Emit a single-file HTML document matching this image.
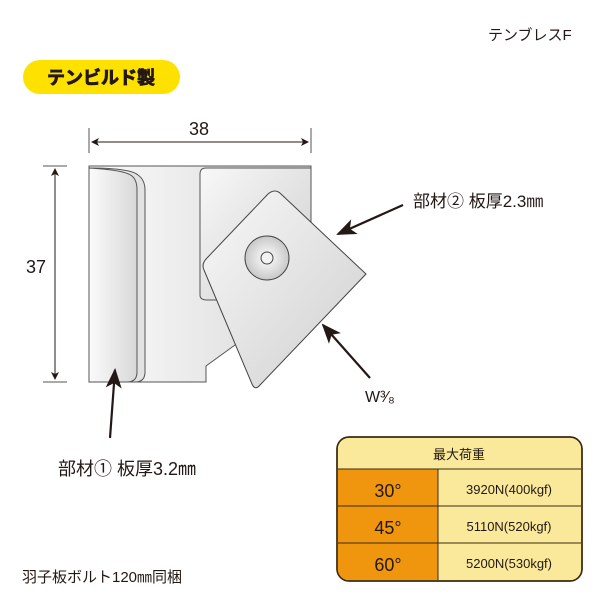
<!DOCTYPE html>
<html><head><meta charset="utf-8"><style>
body{margin:0;width:600px;height:600px;background:#fff;overflow:hidden}
svg{display:block}
text{font-family:"Liberation Sans","Noto Sans CJK JP",sans-serif;fill:#231815}
</style></head><body>
<svg width="600" height="600" viewBox="0 0 600 600">
<defs>
<linearGradient id="g1" x1="0" x2="1"><stop offset="0" stop-color="#fbfbfb"/><stop offset="1" stop-color="#d8d8d8"/></linearGradient>
<linearGradient id="g2" x1="0" y1="0" x2="1" y2="1"><stop offset="0" stop-color="#f8f8f8"/><stop offset="1" stop-color="#cfcfcf"/></linearGradient>
<radialGradient id="g3"><stop offset="0" stop-color="#fff"/><stop offset="1" stop-color="#c8c8c8"/></radialGradient>
<marker id="ah" markerWidth="8" markerHeight="8" refX="7" refY="4" orient="auto-start-reverse" markerUnits="userSpaceOnUse"><path d="M0,0 L8,4 L0,8 L2,4 z" fill="#231815"/></marker>
<marker id="bh" markerWidth="20" markerHeight="16" refX="18" refY="8" orient="auto" markerUnits="userSpaceOnUse"><path d="M0,0 L20,8 L0,16 L5,8 z" fill="#231815"/></marker>
</defs>
<text x="488" y="40" font-size="15">テンブレスF</text>
<rect x="23" y="60" width="157" height="34" rx="17" fill="#ffe100"/>
<text x="101" y="84" font-size="18" font-weight="bold" text-anchor="middle" style="fill:#231815;stroke:#231815;stroke-width:0.8">テンビルド製</text>
<!-- dimension 38 -->
<line x1="89" y1="128" x2="89" y2="153" stroke="#555" stroke-width="1"/>
<line x1="311" y1="128" x2="311" y2="153" stroke="#555" stroke-width="1"/>
<line x1="92" y1="142" x2="308" y2="142" stroke="#231815" stroke-width="1" marker-start="url(#ah)" marker-end="url(#ah)"/>
<text x="199" y="135" font-size="18" text-anchor="middle">38</text>
<!-- dimension 37 -->
<line x1="43" y1="166" x2="67" y2="166" stroke="#555"/>
<line x1="43" y1="382" x2="67" y2="382" stroke="#555"/>
<line x1="55" y1="169" x2="55" y2="379" stroke="#231815" marker-start="url(#ah)" marker-end="url(#ah)"/>
<text x="26" y="273" font-size="18">37</text>
<!-- body -->
<path d="M89,166 L311,166 L311,230 L262,330 L235,345 L206,366 L206,382 L89,382 Z" fill="url(#g1)" stroke="#555" stroke-width="1"/>
<path d="M200,295 L200,174 Q200,168 206,168 L311,168 L311,300 L207,300 Q200,300 200,295 Z" fill="url(#g2)" stroke="#555" stroke-width="1"/>
<path d="M89,168 Q130,168 138,175 Q145,180 145,190 L145,372 Q145,382 135,382 L89,382 Z" fill="#e2e2e2" stroke="#555"/>
<path d="M89,168 Q125,170 132,176 Q137,180 137,190 L137,372 Q137,382 127,382 L89,382 Z" fill="url(#g1)" stroke="#555"/>
<!-- plate -->
<path d="M268,194 Q275,188 281,194 L366,274 L260,385 Q255,391 252,384 L204,270 Q201,264 207,258 Z" fill="url(#g2)" stroke="#444" stroke-width="1"/>
<circle cx="267" cy="258" r="22" fill="url(#g3)" stroke="#444"/>
<circle cx="267" cy="258" r="6" fill="#f2f2f2" stroke="#444"/>
<!-- arrows -->
<line x1="403" y1="205" x2="338" y2="234" stroke="#231815" stroke-width="2.2" marker-end="url(#bh)"/>
<line x1="370" y1="378" x2="323" y2="325" stroke="#231815" stroke-width="2.2" marker-end="url(#bh)"/>
<line x1="110" y1="438" x2="115" y2="370" stroke="#231815" stroke-width="2.2" marker-end="url(#bh)"/>
<text x="413" y="207" font-size="17">部材②  板厚2.3㎜</text>
<text x="365" y="402" font-size="16">W³⁄₈</text>
<text x="58" y="475" font-size="18">部材①  板厚3.2㎜</text>
<text x="22" y="582" font-size="15">羽子板ボルト120㎜同梱</text>
<!-- table -->
<rect x="337" y="437" width="245" height="144" rx="12" fill="#fae99a" stroke="#3a2a10" stroke-width="1.5"/>
<path d="M338,469 L438,469 L438,580 L349,580 Q338,580 338,569 Z" fill="#f0960e"/>
<line x1="338" y1="469" x2="581" y2="469" stroke="#3a2a10"/>
<line x1="338" y1="506" x2="581" y2="506" stroke="#3a2a10"/>
<line x1="338" y1="543" x2="581" y2="543" stroke="#3a2a10"/>
<line x1="438" y1="469" x2="438" y2="580" stroke="#3a2a10"/>
<rect x="337" y="437" width="245" height="144" rx="12" fill="none" stroke="#3a2a10" stroke-width="1.5"/>
<text x="459" y="459" font-size="13" text-anchor="middle">最大荷重</text>
<text x="388" y="497" font-size="18" text-anchor="middle">30°</text>
<text x="388" y="534" font-size="18" text-anchor="middle">45°</text>
<text x="388" y="571" font-size="18" text-anchor="middle">60°</text>
<text x="509" y="494" font-size="13" text-anchor="middle">3920N(400kgf)</text>
<text x="509" y="531" font-size="13" text-anchor="middle">5110N(520kgf)</text>
<text x="509" y="568" font-size="13" text-anchor="middle">5200N(530kgf)</text>
</svg>
</body></html>
